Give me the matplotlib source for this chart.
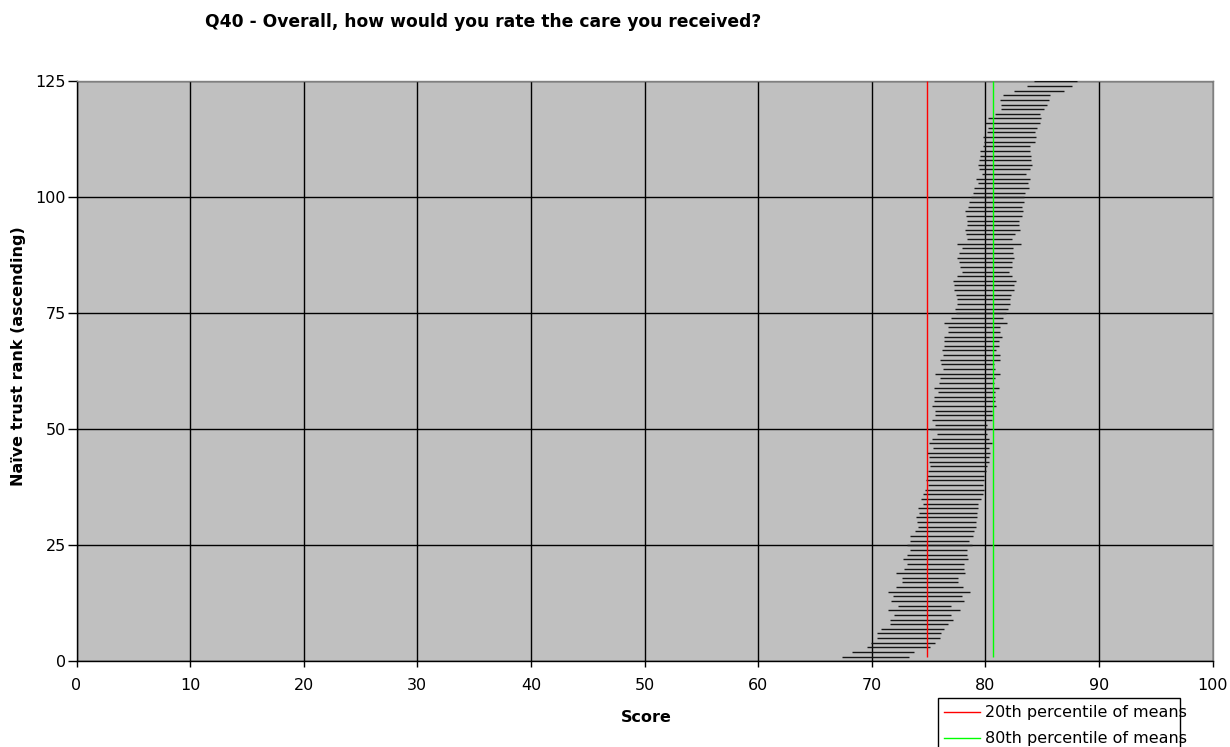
import numpy as np
import matplotlib
matplotlib.use("Agg")
import matplotlib.pyplot as plt
from matplotlib.patches import Rectangle
from matplotlib.lines import Line2D

plt.rcParams["font.family"] = ["DejaVu Sans"]

TITLE = "Q40 - Overall, how would you rate the care you received?"
X_LABEL = "Score"
Y_LABEL = "Naïve trust rank (ascending)"

# Confidence interval bounds per trust, ordered by rank (1 = lowest)
lower = [
    67.36, 68.27, 69.59, 69.91, 70.47, 70.47, 70.82, 71.64, 71.58, 71.93,
    71.46, 72.34, 71.70, 71.90, 71.44, 72.17, 72.67, 72.70, 72.17, 72.84,
    73.14, 72.76, 73.14, 73.37, 73.11, 73.37, 73.34, 73.84, 74.05, 73.99,
    73.90, 74.14, 74.08, 74.49, 74.34, 74.52, 74.69, 74.96, 74.81, 74.90,
    74.96, 75.13, 75.02, 75.04, 74.87, 75.40, 75.04, 75.34, 75.72, 75.13,
    75.60, 75.31, 75.54, 75.60, 75.34, 75.48, 75.48, 75.81, 75.48, 75.93,
    76.01, 75.54, 76.28, 76.07, 76.04, 76.25, 76.19, 76.37, 76.37, 76.37,
    76.69, 76.72, 76.39, 76.98, 77.42, 77.33, 77.51, 77.48, 77.45, 77.25,
    77.25, 77.16, 77.54, 77.98, 77.74, 77.69, 77.54, 77.72, 77.92, 77.51,
    78.42, 78.27, 78.21, 78.36, 78.39, 78.30, 78.24, 78.51, 78.60, 78.71,
    78.95, 79.01, 79.36, 79.18, 79.71, 79.45, 79.39, 79.45, 79.56, 79.53,
    79.83, 79.89, 79.80, 80.15, 80.24, 80.00, 80.27, 80.88, 81.41, 81.38,
    81.32, 81.56, 82.53, 83.64, 84.29,
]
upper = [
    73.28, 73.69, 75.13, 75.57, 76.01, 76.10, 76.37, 76.75, 77.16, 76.95,
    77.77, 76.95, 78.10, 77.98, 78.65, 78.00, 77.60, 77.57, 78.21, 78.13,
    78.10, 78.45, 78.36, 78.36, 78.80, 78.57, 78.95, 79.01, 79.18, 79.18,
    79.30, 79.30, 79.39, 79.39, 79.62, 79.83, 79.86, 79.77, 79.92, 79.92,
    80.09, 80.12, 80.30, 80.33, 80.44, 80.30, 80.56, 80.30, 80.15, 80.36,
    80.18, 80.59, 80.71, 80.59, 80.91, 80.83, 80.83, 80.83, 81.21, 80.80,
    80.85, 81.29, 80.88, 80.80, 81.29, 81.29, 80.94, 81.24, 81.18, 81.50,
    81.29, 81.27, 81.88, 81.59, 81.82, 82.00, 82.18, 82.18, 82.26, 82.56,
    82.53, 82.70, 82.35, 82.09, 82.35, 82.38, 82.56, 82.44, 82.44, 83.11,
    82.38, 82.62, 83.08, 82.94, 82.97, 83.23, 83.32, 83.26, 83.41, 83.41,
    83.53, 83.82, 83.76, 83.97, 83.58, 83.94, 84.08, 84.05, 83.99, 83.97,
    83.94, 84.41, 84.43, 84.35, 84.55, 84.79, 84.93, 84.85, 85.17, 85.43,
    85.61, 85.73, 86.90, 87.60, 88.07,
]
rank = np.arange(1, len(lower) + 1)

p20 = 74.9
p80 = 80.7

x_ticks = [0, 10, 20, 30, 40, 50, 60, 70, 80, 90, 100]
y_ticks = [0, 25, 50, 75, 100, 125]

FS = 11.5

fig = plt.figure(figsize=(12.3, 7.47), dpi=100)
ax = fig.add_axes([76.5 / 1230, 85.7 / 747, 1136 / 1230, 580 / 747])
ax.set_facecolor("#C0C0C0")

ax.set_xlim(0, 100)
ax.set_ylim(0, 125)
ax.set_xticks(x_ticks)
ax.set_yticks(y_ticks)
ax.grid(True, color="black", linewidth=1.0)
ax.set_axisbelow(True)

ax.hlines(rank, lower, upper, color="#151515", linewidth=1.0, zorder=3)

ax.vlines([p20], rank[0], rank[-1], color="#FF0000", linewidth=1.0, zorder=4)
ax.vlines([p80], rank[0], rank[-1], color="#00FF00", linewidth=1.0, zorder=4)

for side in ("top", "right"):
    ax.spines[side].set_color("#808080")
    ax.spines[side].set_linewidth(1.0)
for side in ("left", "bottom"):
    ax.spines[side].set_color("black")
    ax.spines[side].set_linewidth(1.0)

ax.tick_params(axis="x", direction="out", length=4, width=1.0,
               labelsize=FS, color="black", pad=8)
ax.tick_params(axis="y", direction="out", length=6.5, width=1.0,
               labelsize=FS, color="black", pad=1)

fig.text(205 / 1230, 1 - 22 / 747, TITLE, fontsize=12.3, fontweight="bold",
         ha="left", va="center")
fig.text(646 / 1230, 1 - 717 / 747, X_LABEL, fontsize=FS, fontweight="bold",
         ha="center", va="center")
fig.text(19 / 1230, 1 - 356 / 747, Y_LABEL, fontsize=FS, fontweight="bold",
         ha="center", va="center", rotation=90)

# Legend box below the plot, partly outside the figure
box = Rectangle((938 / 1230, -0.05), (1180 - 938) / 1230, 0.05 + (747 - 698) / 747,
                transform=fig.transFigure, facecolor="white", edgecolor="black",
                linewidth=1.0, zorder=5)
fig.add_artist(box)
entries = [("20th percentile of means", "#FF0000", 712),
           ("80th percentile of means", "#00FF00", 738)]
for label, color, ypx in entries:
    yf = 1 - ypx / 747
    fig.add_artist(Line2D([944 / 1230, 980 / 1230], [yf, yf], color=color,
                          linewidth=1.0, transform=fig.transFigure, zorder=6))
    fig.text(985 / 1230, yf, label, fontsize=FS, ha="left", va="center", zorder=7)

fig.savefig("out.png", dpi=100)
